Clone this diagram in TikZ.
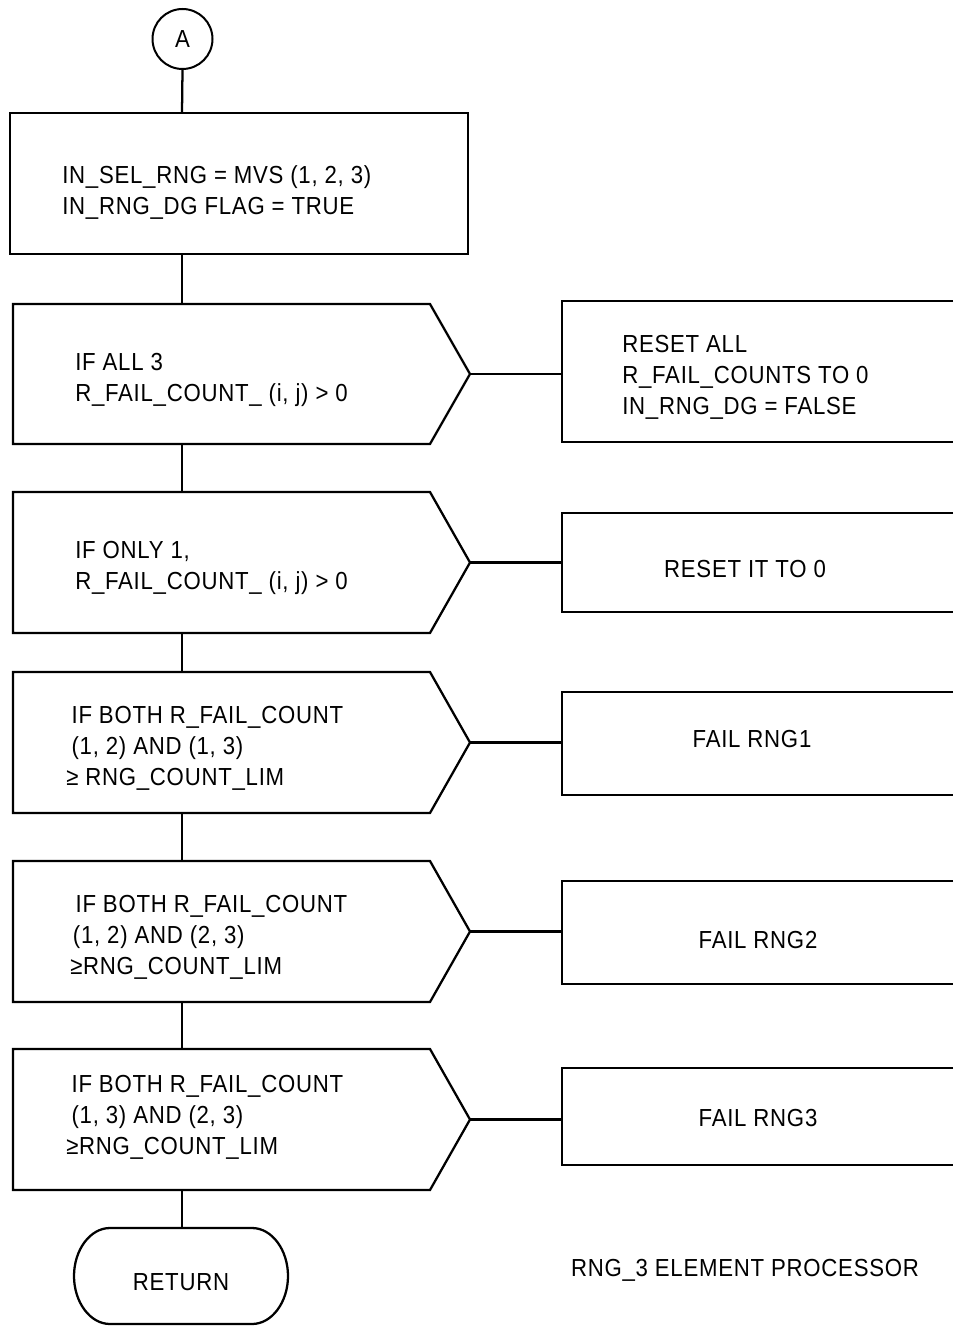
\documentclass[tikz,border=0pt]{standalone}
\usepackage{fontspec}
\setmainfont{Liberation Sans}[FakeStretch=0.9,LetterSpace=3]
\begin{document}
\begin{tikzpicture}[x=0.75pt,y=-0.75pt,
  shape line/.style={line width=1.7pt,line join=miter},
  conn/.style={line width=1.7pt},
  txt/.style={inner sep=0pt,align=left,font=\fontsize{18.5}{23.25}\selectfont},
  ctxt/.style={inner sep=0pt,align=center,font=\fontsize{18.5}{23.25}\selectfont}]
\useasboundingbox (0,0) rectangle (953,1326);
% connector circle
\node[draw,circle,line width=1.5pt,minimum size=45pt,inner sep=0pt,font=\fontsize{18.5}{21}\selectfont] (A) at (182.5,39) {A};
% process box
\draw[shape line] (10,113) rectangle (468,254);
\coordinate (b1t) at (182,113); \coordinate (b1b) at (182,254);
\node[txt,anchor=west] (b1) at (62,193) {IN\_SEL\_RNG = MVS (1, 2, 3)\\IN\_RNG\_DG FLAG = TRUE};
% decisions
\foreach \n/\t/\b in {1/304/444,2/492/633,3/672/813,4/861/1002,5/1049/1190}{
  \pgfmathsetmacro{\m}{(\t+\b)/2}
  \draw[shape line] (13,\t) -- (430,\t) -- (470,\m) -- (430,\b) -- (13,\b) -- cycle;
  \coordinate (d\n t) at (182,\t);
  \coordinate (d\n b) at (182,\b);
  \coordinate (d\n tip) at (470,\m);
}
\node[txt,anchor=west] (t1) at (75,380) {IF ALL 3\\R\_FAIL\_COUNT\_ (i, j) > 0};
\node[txt,anchor=west] (t2) at (75,568) {IF ONLY 1,\\R\_FAIL\_COUNT\_ (i, j) > 0};
\node[txt,anchor=west] (t3) at (66,748.5) {\hspace*{4pt}IF BOTH R\_FAIL\_COUNT\\\hspace*{4pt}(1, 2) AND (1, 3)\\≥ RNG\_COUNT\_LIM};
\node[txt,anchor=west] (t4) at (70,937.5) {\hspace*{4pt}IF BOTH R\_FAIL\_COUNT\\\hspace*{2pt}(1, 2) AND (2, 3)\\≥RNG\_COUNT\_LIM};
\node[txt,anchor=west] (t5) at (66,1117.5) {\hspace*{4pt}IF BOTH R\_FAIL\_COUNT\\\hspace*{4pt}(1, 3) AND (2, 3)\\≥RNG\_COUNT\_LIM};
% right boxes (open on the right)
\foreach \n/\t/\b in {1/301/442,2/513/612,3/692/795,4/881/984,5/1068/1165}{
  \draw[shape line] (953,\t) -- (562,\t) -- (562,\b) -- (953,\b);
}
\coordinate (r1) at (562,374);
\coordinate (r2) at (562,562.5);
\coordinate (r3) at (562,742.5);
\coordinate (r4) at (562,931.5);
\coordinate (r5) at (562,1119.5);
\node[txt,anchor=west] (rt1) at (622,377.5) {RESET ALL\\R\_FAIL\_COUNTS TO 0\\IN\_RNG\_DG = FALSE};
\node[ctxt] (rt2) at (745,569) {RESET IT TO 0};
\node[ctxt] (rt3) at (752,739) {FAIL RNG1};
\node[ctxt] (rt4) at (758,940) {FAIL RNG2};
\node[ctxt] (rt5) at (758,1118) {FAIL RNG3};
% return terminal
\draw[shape line] (110,1228) -- (252,1228) .. controls (272,1228) and (288,1250) .. (288,1276)
  .. controls (288,1302) and (272,1324) .. (252,1324) -- (110,1324)
  .. controls (90,1324) and (74,1302) .. (74,1276)
  .. controls (74,1250) and (90,1228) .. (110,1228) -- cycle;
\coordinate (rett) at (182,1228);
\node[ctxt] (ret) at (181,1282) {RETURN};
\node[ctxt] (title) at (745,1270) {RNG\_3 ELEMENT PROCESSOR};
% connectors
\draw[conn] (A.south) -- (b1t);
\draw[conn] (b1b) -- (d1t);
\draw[conn] (d1b) -- (d2t);
\draw[conn] (d2b) -- (d3t);
\draw[conn] (d3b) -- (d4t);
\draw[conn] (d4b) -- (d5t);
\draw[conn] (d5b) -- (rett);
\foreach \n in {1,...,5}{\draw[conn] (d\n tip) -- (r\n);}
\end{tikzpicture}
\end{document}
